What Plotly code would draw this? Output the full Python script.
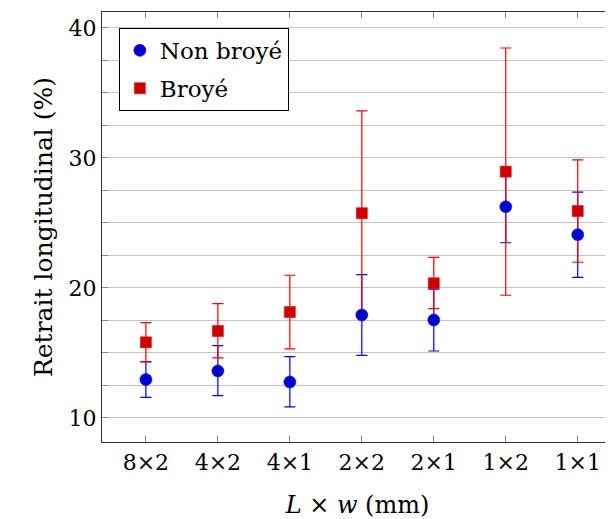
import plotly.graph_objects as go

categories = ["8×2", "4×2", "4×1", "2×2", "2×1", "1×2", "1×1"]

non_broye = [12.95, 13.62, 12.77, 17.92, 17.54, 26.25, 24.10]
non_broye_hi = [14.33, 15.56, 14.72, 21.02, 19.90, 29.00, 27.38]
non_broye_lo = [11.59, 11.72, 10.85, 14.82, 15.15, 23.48, 20.82]

broye = [15.82, 16.69, 18.15, 25.75, 20.36, 28.95, 25.92]
broye_hi = [17.33, 18.79, 20.98, 33.62, 22.36, 38.46, 29.85]
broye_lo = [14.31, 14.62, 15.31, 17.90, 18.41, 19.44, 21.98]

y_ticks = [10, 20, 30, 40]

FONT = "DejaVu Serif"
x_idx = list(range(len(categories)))


def err(vals, hi, lo, color):
    return dict(type="data", symmetric=False,
                array=[h - v for h, v in zip(hi, vals)],
                arrayminus=[v - l for v, l in zip(vals, lo)],
                color=color, thickness=1.2, width=5.5)


fig = go.Figure()
# error bars first (drawn under all markers)
fig.add_trace(go.Scatter(x=x_idx, y=non_broye, mode="markers",
                         marker=dict(size=0.1, opacity=0),
                         error_y=err(non_broye, non_broye_hi, non_broye_lo, "#0000ff"),
                         showlegend=False, hoverinfo="skip"))
fig.add_trace(go.Scatter(x=x_idx, y=broye, mode="markers",
                         marker=dict(size=0.1, opacity=0),
                         error_y=err(broye, broye_hi, broye_lo, "#ff0000"),
                         showlegend=False, hoverinfo="skip"))
# markers
fig.add_trace(go.Scatter(x=x_idx, y=non_broye, mode="markers", name="Non broyé",
                         legendgroup="a",
                         marker=dict(symbol="circle", size=12, color="#0000cc",
                                     line=dict(color="#0000ff", width=0.6))))
fig.add_trace(go.Scatter(x=x_idx, y=broye, mode="markers", name="Broyé",
                         legendgroup="b",
                         marker=dict(symbol="square", size=11, color="#cc0000",
                                     line=dict(color="#ff0000", width=0.6))))

# the page body has an 8px margin: compensate so the plot lands where the reference has it
fig.update_layout(
    width=613, height=519,
    margin=dict(l=94, r=8, t=4, b=85),
    paper_bgcolor="white", plot_bgcolor="white",
    font=dict(family=FONT, size=22, color="black"),
    showlegend=True,
    legend=dict(x=0.033, y=0.963, xanchor="left", yanchor="top",
                bgcolor="white", bordercolor="black", borderwidth=1,
                font=dict(family=FONT, size=23),
                itemwidth=30, tracegroupgap=5),
    xaxis=dict(range=[-0.61, 6.49], tickvals=x_idx, ticktext=categories,
               showgrid=False, zeroline=False,
               showline=True, linecolor="#333333", linewidth=1.2, mirror="ticks",
               ticks="inside", ticklen=6, tickcolor="#888888", tickwidth=1,
               tickfont=dict(family=FONT, size=22),
               title=dict(text="<i>L</i> × <i>w</i> (mm)", font=dict(family=FONT, size=24), standoff=22)),
    yaxis=dict(range=[8.15, 41.23], tickvals=y_ticks,
               showgrid=True, gridcolor="#c4c4c4", gridwidth=1,
               zeroline=False,
               showline=True, linecolor="#333333", linewidth=1.2,
               ticks="inside", ticklen=6, tickcolor="#888888", tickwidth=1,
               tickfont=dict(family=FONT, size=22),
               minor=dict(dtick=2.5, tick0=0, showgrid=True, gridcolor="#c4c4c4",
                          gridwidth=1, ticks="inside", ticklen=6, tickcolor="#888888"),
               title=dict(text="Retrait longitudinal (%)", font=dict(family=FONT, size=25), standoff=8)),
)

fig.write_html("out.html")
